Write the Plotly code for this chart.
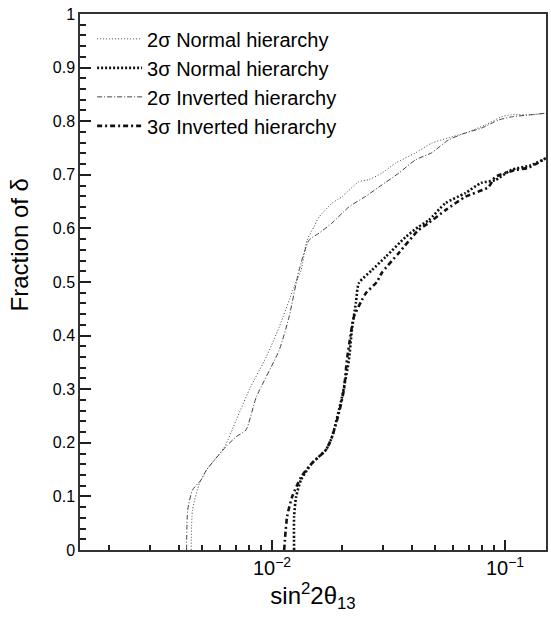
import plotly.graph_objects as go

# ---- data ----
nh2_x = [0.00450, 0.00456, 0.00489, 0.00523, 0.00625, 0.00703, 0.00799, 0.00944, 0.01074,
         0.01244, 0.01333, 0.01414, 0.01515, 0.01591, 0.01809, 0.01996, 0.02359, 0.02603,
         0.02958, 0.03396, 0.04133, 0.04838, 0.05720, 0.06761, 0.08232, 0.09636, 0.1063,
         0.1294, 0.150]
nh2_y = [0.0, 0.075, 0.125, 0.149, 0.192, 0.243, 0.299, 0.360, 0.416,
         0.491, 0.522, 0.578, 0.603, 0.621, 0.647, 0.659, 0.687, 0.691,
         0.703, 0.722, 0.741, 0.759, 0.769, 0.778, 0.793, 0.808, 0.812,
         0.812, 0.815]

ih2_x = [0.00430, 0.00435, 0.00456, 0.00497, 0.00523, 0.00635, 0.00701, 0.00773, 0.00856,
         0.01074, 0.01184, 0.01307, 0.01442, 0.01591, 0.01809, 0.02138, 0.02527, 0.02872,
         0.03498, 0.04133, 0.04838, 0.05720, 0.06761, 0.07914, 0.09356, 0.1063, 0.1294, 0.150]
ih2_y = [0.0, 0.075, 0.112, 0.131, 0.149, 0.193, 0.211, 0.224, 0.285,
         0.373, 0.435, 0.522, 0.578, 0.591, 0.610, 0.640, 0.660, 0.677,
         0.703, 0.728, 0.741, 0.765, 0.778, 0.787, 0.802, 0.808, 0.812, 0.815]

nh3_x = [0.01244, 0.01244, 0.01269, 0.01333, 0.01485, 0.01705, 0.01809, 0.01996, 0.02138,
         0.02202, 0.02291, 0.02359, 0.02682, 0.03076, 0.03747, 0.04257, 0.04697, 0.05554,
         0.06761, 0.07914, 0.09085, 0.1063, 0.1294, 0.150]
nh3_y = [0.0, 0.062, 0.099, 0.131, 0.162, 0.187, 0.211, 0.285, 0.354,
         0.410, 0.461, 0.498, 0.522, 0.547, 0.584, 0.603, 0.615, 0.647,
         0.666, 0.685, 0.690, 0.709, 0.718, 0.731]

ih3_x = [0.01128, 0.01161, 0.01220, 0.01333, 0.01485, 0.01705, 0.01809, 0.01938, 0.02035,
         0.02096, 0.02181, 0.02246, 0.02429, 0.02527, 0.02816, 0.02958, 0.03498, 0.04257,
         0.04697, 0.05554, 0.06761, 0.08479, 0.09085, 0.1106, 0.1257, 0.150]
ih3_y = [0.0, 0.062, 0.099, 0.136, 0.162, 0.187, 0.211, 0.256, 0.299,
         0.354, 0.405, 0.435, 0.466, 0.479, 0.500, 0.517, 0.554, 0.597,
         0.610, 0.634, 0.659, 0.677, 0.696, 0.709, 0.713, 0.731]

names = ["2σ Normal hierarchy", "3σ Normal hierarchy",
         "2σ Inverted hierarchy", "3σ Inverted hierarchy"]

fig = go.Figure()
fig.add_trace(go.Scatter(x=nh2_x, y=nh2_y, mode="lines", name=names[0],
                         line=dict(color="#444", width=1, dash="1px,2px", shape="spline", smoothing=0.6)))
fig.add_trace(go.Scatter(x=nh3_x, y=nh3_y, mode="lines", name=names[1],
                         line=dict(color="#111", width=2.6, dash="2px,2px", shape="spline", smoothing=0.6)))
fig.add_trace(go.Scatter(x=ih2_x, y=ih2_y, mode="lines", name=names[2],
                         line=dict(color="#444", width=1, dash="5px,2px,1px,2px", shape="spline", smoothing=0.6)))
fig.add_trace(go.Scatter(x=ih3_x, y=ih3_y, mode="lines", name=names[3],
                         line=dict(color="#111", width=2.6, dash="5px,3px,2px,3px", shape="spline", smoothing=0.6)))

FAM = "Liberation Sans"
XR = [-2.824, -0.824]
tick_col = "#202020"

fig.update_layout(
    width=551, height=622,
    margin=dict(l=80, r=3, t=14, b=72),
    paper_bgcolor="white", plot_bgcolor="white",
    showlegend=True,
    legend=dict(x=0.026, y=0.99, xanchor="left", yanchor="top",
                bgcolor="rgba(0,0,0,0)",
                font=dict(family=FAM, size=20, color="black"), itemwidth=45),
    xaxis=dict(
        type="log", range=XR,
        tickmode="linear", tick0=0, dtick=1, exponentformat="power",
        ticks="inside", ticklen=10, tickwidth=2, tickcolor=tick_col,
        showline=True, linecolor="#333", linewidth=1.5, mirror=True,
        tickfont=dict(family=FAM, size=16, color="black"),
        minor=dict(ticks="inside", ticklen=5, tickcolor=tick_col),
        title=dict(text="sin<sup>2</sup>2θ<sub>13</sub>",
                   font=dict(family=FAM, size=24, color="black"), standoff=6),
    ),
    xaxis2=dict(
        type="log", range=XR, overlaying="x", side="top", anchor="y",
        tickmode="linear", tick0=0, dtick=1, showticklabels=False,
        ticks="inside", ticklen=10, tickwidth=2, tickcolor=tick_col,
        minor=dict(ticks="inside", ticklen=5, tickcolor=tick_col),
    ),
    yaxis=dict(
        range=[0, 1], dtick=0.1, tick0=0,
        ticks="inside", ticklen=11, tickwidth=2, tickcolor=tick_col,
        showline=True, linecolor="#333", linewidth=1.5, mirror=True,
        tickfont=dict(family=FAM, size=16, color="black"),
        minor=dict(dtick=0.02, ticks="inside", ticklen=6, tickcolor=tick_col),
    ),
    yaxis2=dict(
        range=[0, 1], dtick=0.1, tick0=0, overlaying="y", side="right", anchor="x",
        showticklabels=False,
        ticks="inside", ticklen=11, tickwidth=2, tickcolor=tick_col,
        minor=dict(dtick=0.02, ticks="inside", ticklen=6, tickcolor=tick_col),
    ),
    annotations=[dict(text="Fraction of δ", xref="paper", yref="paper",
                      x=-0.13, y=0.569, xanchor="center", yanchor="middle",
                      textangle=-90, showarrow=False,
                      font=dict(family=FAM, size=24, color="black"))],
)

fig.write_html("out.html")
